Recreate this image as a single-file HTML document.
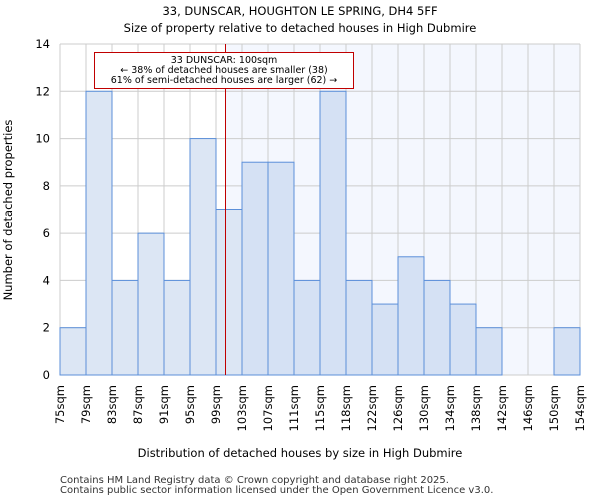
<!DOCTYPE html>
<html><head><meta charset="utf-8"><style>
body{margin:0;background:#fff;font-family:"DejaVu Sans","Liberation Sans",sans-serif;}
</style></head><body>
<svg width="600" height="500" xmlns="http://www.w3.org/2000/svg" font-family="DejaVu Sans, Liberation Sans, sans-serif">
<g id="plot"></g>
<script>
const categories=["75sqm","79sqm","83sqm","87sqm","91sqm","95sqm","99sqm","103sqm","107sqm","111sqm","115sqm","118sqm","122sqm","126sqm","130sqm","134sqm","138sqm","142sqm","146sqm","150sqm","154sqm"];
const counts=[2,12,4,6,4,10,7,9,9,4,12,4,3,5,4,3,2,0,0,2];
const yTicks=[0,2,4,6,8,10,12,14];
const X0=60,X1=580,Y0=375,Y1=44,yMax=14;
const nb=counts.length;
const bw=(X1-X0)/nb;
const xs=i=>X0+i*bw;
const ys=v=>Y0-(v/yMax)*(Y0-Y1);
const NS="http://www.w3.org/2000/svg";
const g=document.getElementById('plot');
function mk(t,a,p){const e=document.createElementNS(NS,t);for(const k in a)e.setAttribute(k,a[k]);(p||g).appendChild(e);return e;}
const mx=225.5;
let r=mk('rect',{x:mx,y:Y1,width:X1-mx,height:Y0-Y1,fill:'#f4f7fe'});


for(let i=0;i<=nb;i++){let l=mk('line',{x1:xs(i),x2:xs(i),y1:Y1,y2:Y0,stroke:'#cccccc'});

}
yTicks.forEach(t=>{let l=mk('line',{x1:X0,x2:X1,y1:ys(t),y2:ys(t),stroke:'#cccccc'});


let tx=mk('text',{x:X0-10,y:ys(t)+4,'text-anchor':'end','font-size':11.5,fill:'#000'});tx.textContent=t;

});
counts.forEach((c,i)=>{const right=xs(i)>=mx-1;let b=mk('rect',{x:xs(i),y:ys(c),width:bw,height:Y0-ys(c),fill:right?'#d5e1f4':'#dce6f4',stroke:'#5b8fd9','stroke-width':1});

});
categories.forEach((c,i)=>{let t=mk('text',{transform:`translate(${xs(i)+4},385) rotate(-90)`,'text-anchor':'end','font-size':11.5,fill:'#000'});t.textContent=c;

});
let ml=mk('line',{x1:mx,x2:mx,y1:Y1,y2:Y0,stroke:'#c00000','stroke-width':1});


let box=mk('rect',{x:94.5,y:52.5,width:259,height:36,fill:'#fff',stroke:'#c00000'});


["33 DUNSCAR: 100sqm","← 38% of detached houses are smaller (38)","61% of semi-detached houses are larger (62) →"].forEach((s,i)=>{let t=mk('text',{x:224,y:63+i*10,'text-anchor':'middle','font-size':9.5,fill:'#000'});t.textContent=s;

});
</script>
<text x="300" y="15" text-anchor="middle" font-size="11.5">33, DUNSCAR, HOUGHTON LE SPRING, DH4 5FF</text>
<text x="300" y="32" text-anchor="middle" font-size="11.5">Size of property relative to detached houses in High Dubmire</text>
<text x="300" y="457" text-anchor="middle" font-size="11.5">Distribution of detached houses by size in High Dubmire</text>
<text transform="translate(12,210) rotate(-90)" text-anchor="middle" font-size="11.5">Number of detached properties</text>
<text x="60" y="483" font-size="10" fill="#333">Contains HM Land Registry data © Crown copyright and database right 2025.</text>
<text x="60" y="493" font-size="10" fill="#333">Contains public sector information licensed under the Open Government Licence v3.0.</text>
</svg>
</body></html>
